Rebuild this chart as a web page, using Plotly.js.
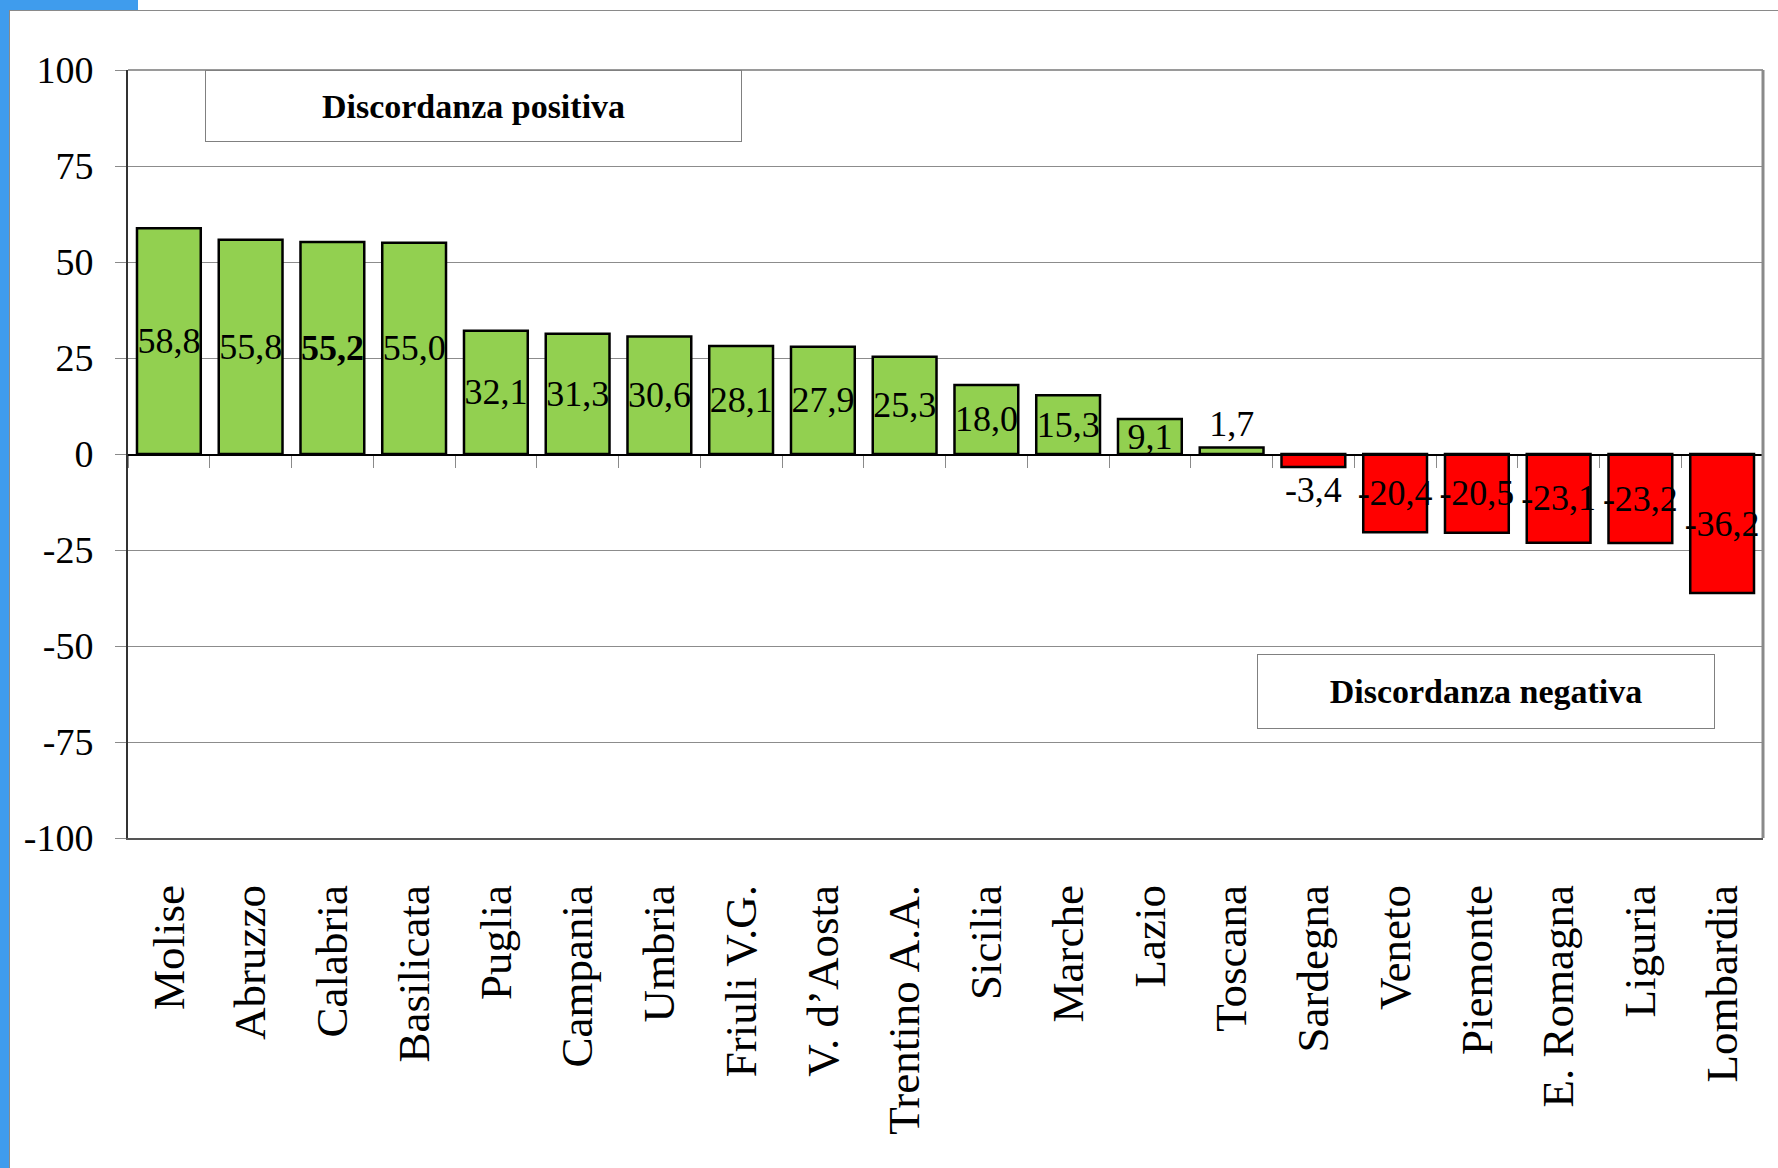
<!DOCTYPE html>
<html>
<head>
<meta charset="utf-8">
<script src="https://cdn.plot.ly/plotly-3.0.1.min.js"></script>
<style>
  html, body { margin: 0; padding: 0; background: #ffffff; width: 1778px; height: 1168px; overflow: hidden; }
  #frame-left { position: absolute; left: 0; top: 0; width: 9px; height: 1168px; background: #3f9ced; }
  #frame-corner { position: absolute; left: 0; top: 0; width: 138px; height: 10px; background: #3f9ced; }
  #panel { position: absolute; left: 9px; top: 10px; width: 1769px; height: 1158px; border-top: 1px solid #8a8a8a; border-left: 1px solid #8a8a8a; box-sizing: border-box; background: #ffffff; }
  #chart { position: absolute; left: 0; top: 0; width: 1778px; height: 1168px; }
</style>
</head>
<body>
<div id="frame-left"></div>
<div id="frame-corner"></div>
<div id="panel"></div>
<div id="chart"></div>
<script>
// Regioni italiane: indice di discordanza (%)
const regions = ['Molise', 'Abruzzo', 'Calabria', 'Basilicata', 'Puglia', 'Campania', 'Umbria',
  'Friuli V.G.', 'V. d\u2019Aosta', 'Trentino A.A.', 'Sicilia', 'Marche', 'Lazio', 'Toscana',
  'Sardegna', 'Veneto', 'Piemonte', 'E. Romagna', 'Liguria', 'Lombardia'];
const discordance = [58.8, 55.8, 55.2, 55.0, 32.1, 31.3, 30.6, 28.1, 27.9, 25.3, 18.0, 15.3,
  9.1, 1.7, -3.4, -20.4, -20.5, -23.1, -23.2, -36.2];
const highlighted = ['Calabria'];
const yTicks = [-100, -75, -50, -25, 0, 25, 50, 75, 100];
const boxLabels = ['Discordanza positiva', 'Discordanza negativa'];

const SERIF = "'Liberation Serif', 'Times New Roman', serif";
const GREEN = '#92d050';
const RED = '#ff0000';

const fmt = v => v.toFixed(1).replace('.', ',');
const labels = discordance.map((v, i) =>
  highlighted.includes(regions[i]) ? '<b>' + fmt(v) + '</b>' : fmt(v));
const colors = discordance.map(v => (v >= 0 ? GREEN : RED));
const positions = discordance.map(v => (Math.abs(v) < 5 ? 'outside' : 'inside'));

const bars = {
  type: 'bar',
  x: regions,
  y: discordance,
  text: labels,
  textposition: positions,
  insidetextanchor: 'middle',
  textangle: 0,
  cliponaxis: false,
  textfont: { family: SERIF, size: 36, color: '#000000' },
  marker: { color: colors, line: { color: '#000000', width: 2.5 } },
  width: 0.78,
  hoverinfo: 'x+y',
  showlegend: false
};

// carrier for the axis drawn along the zero line
const zeroAxisCarrier = {
  type: 'scatter',
  mode: 'none',
  x: regions,
  y: discordance,
  xaxis: 'x2',
  hoverinfo: 'skip',
  showlegend: false
};

const layout = {
  width: 1778,
  height: 1168,
  margin: { l: 128, r: 15, t: 70, b: 330 },
  paper_bgcolor: 'rgba(0,0,0,0)',
  plot_bgcolor: 'rgba(0,0,0,0)',
  font: { family: SERIF, color: '#000000' },
  uniformtext: { minsize: 36, mode: 'show' },
  xaxis: {
    type: 'category',
    range: [-0.5, regions.length - 0.5],
    tickangle: -90,
    tickfont: { family: SERIF, size: 45, color: '#000000' },
    ticks: '',
    ticklabelstandoff: 27,
    showgrid: false,
    showline: true,
    linecolor: '#555555',
    linewidth: 2,
    zeroline: false
  },
  xaxis2: {
    type: 'category',
    overlaying: 'x',
    anchor: 'free',
    position: 0.5,
    range: [-0.5, regions.length - 0.5],
    showticklabels: false,
    ticks: 'outside',
    tickson: 'boundaries',
    ticklen: 12,
    tickwidth: 1,
    tickcolor: '#8a8a8a',
    showgrid: false,
    showline: true,
    linecolor: '#000000',
    linewidth: 1.5,
    zeroline: false
  },
  yaxis: {
    range: [-100, 100],
    tickvals: yTicks,
    ticktext: yTicks.map(String),
    tickfont: { family: SERIF, size: 38, color: '#000000' },
    ticks: 'outside',
    ticklen: 11,
    tickwidth: 1,
    tickcolor: '#8a8a8a',
    ticklabelstandoff: 14,
    showgrid: true,
    gridcolor: '#8c8c8c',
    gridwidth: 1,
    showline: true,
    linecolor: '#333333',
    linewidth: 2,
    zeroline: false
  },
  shapes: [
    { type: 'line', xref: 'paper', yref: 'paper', x0: 0, x1: 1, y0: 1, y1: 1,
      line: { color: '#9a9a9a', width: 2 } },
    { type: 'line', xref: 'paper', yref: 'paper', x0: 1, x1: 1, y0: 0, y1: 1,
      line: { color: '#8a8a8a', width: 3 } }
  ],
  annotations: [
    { xref: 'paper', yref: 'paper', x: 0.2113, y: 0.953, xanchor: 'center', yanchor: 'middle',
      text: '<b>' + boxLabels[0] + '</b>', showarrow: false,
      font: { family: SERIF, size: 34, color: '#000000' },
      width: 535, height: 70, borderpad: 0, borderwidth: 1, bordercolor: '#808080',
      bgcolor: '#ffffff' },
    { xref: 'paper', yref: 'paper', x: 0.8306, y: 0.1908, xanchor: 'center', yanchor: 'middle',
      text: '<b>' + boxLabels[1] + '</b>', showarrow: false,
      font: { family: SERIF, size: 34, color: '#000000' },
      width: 456, height: 73, borderpad: 0, borderwidth: 1, bordercolor: '#808080',
      bgcolor: '#ffffff' }
  ]
};

Plotly.newPlot('chart', [bars, zeroAxisCarrier], layout, { displayModeBar: false, staticPlot: true });
</script>
</body>
</html>
